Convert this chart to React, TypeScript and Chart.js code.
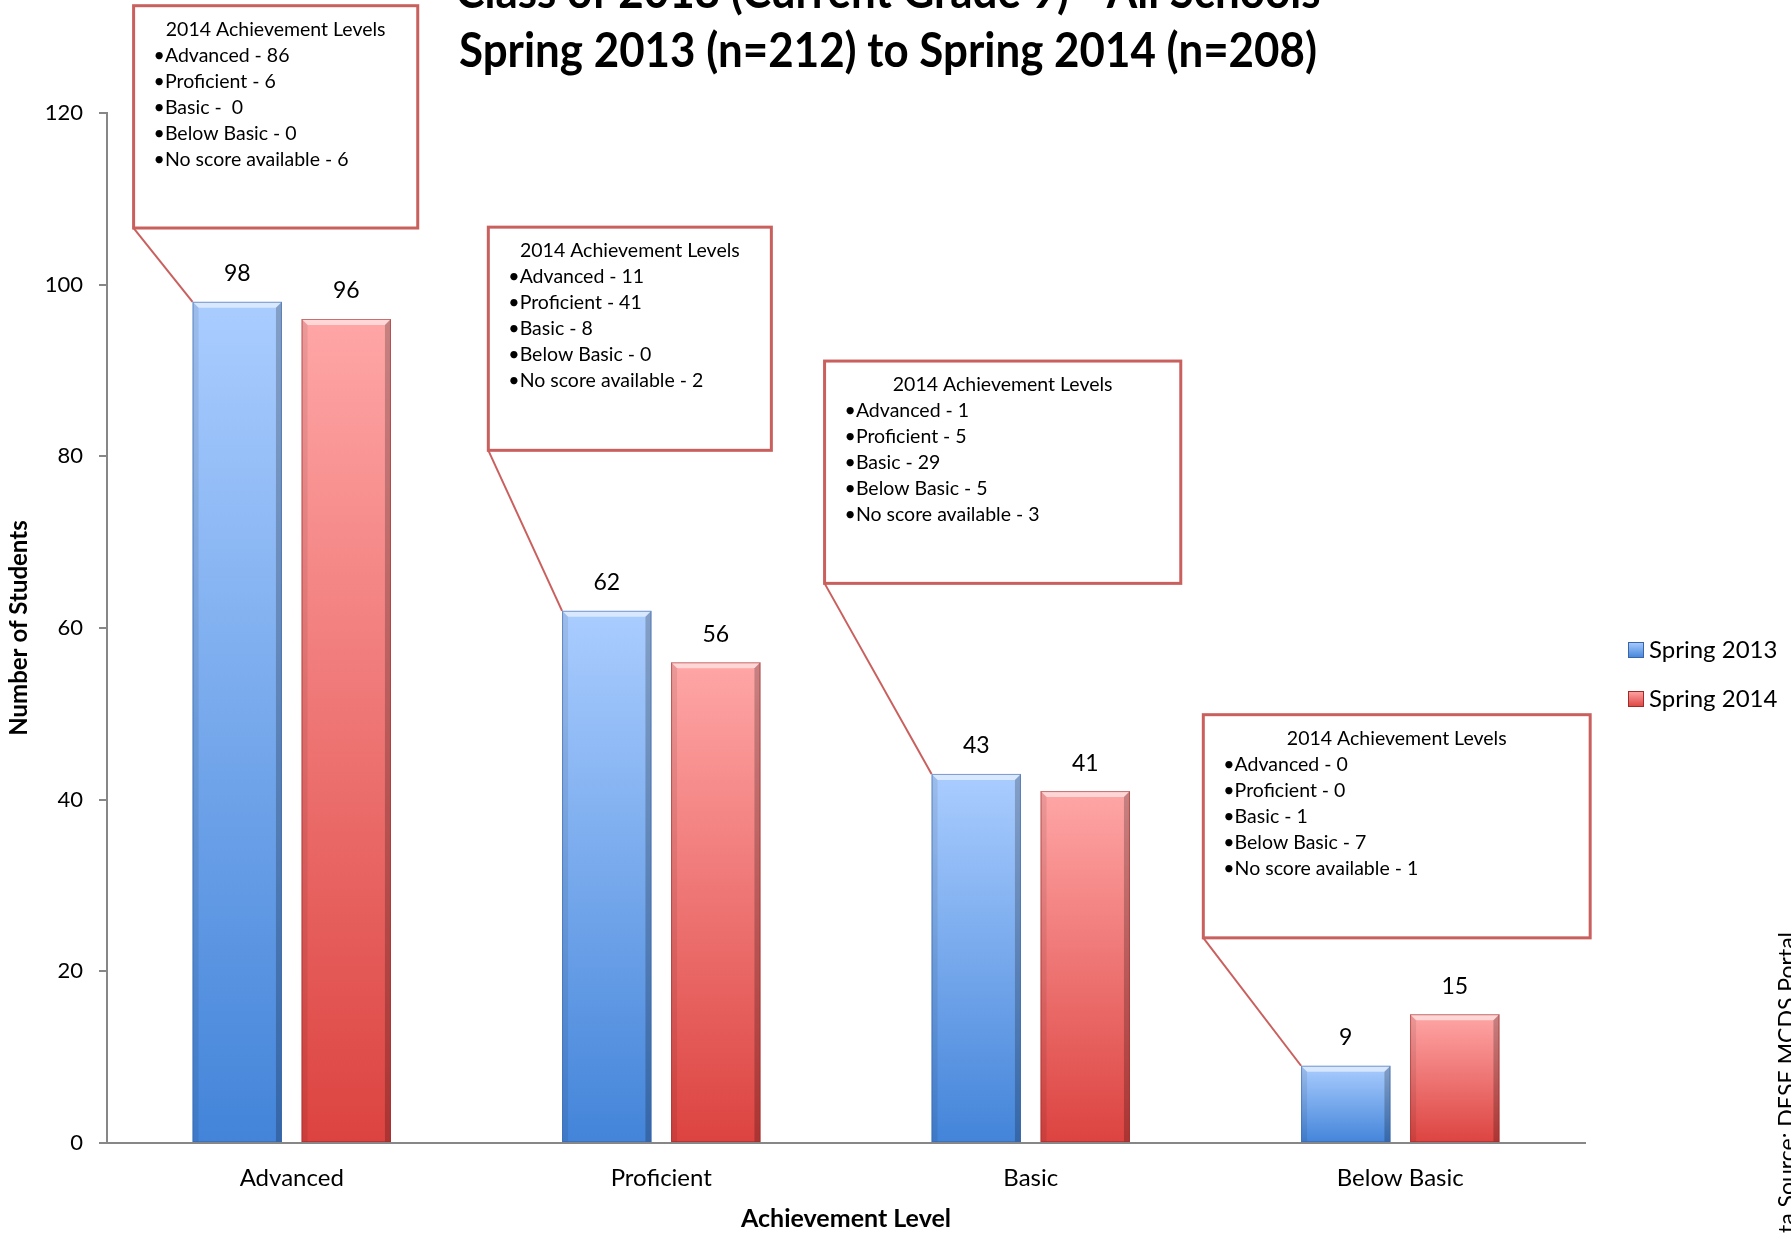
import React, { useEffect, useRef } from "react";
import { Chart, registerables } from "chart.js";

Chart.register(...registerables);

// ---------- data ----------
const categories = ["Advanced", "Proficient", "Basic", "Below Basic"];
const seriesNames = ["Spring 2013", "Spring 2014"];
const spring2013 = [98, 62, 43, 9];
const spring2014 = [96, 56, 41, 15];
const yTickValues = [0, 20, 40, 60, 80, 100, 120];
const titleLines = [
  "Class of 2018 (Current Grade 9) - All Schools",
  "Spring 2013 (n=212) to Spring 2014 (n=208)",
];
const yAxisTitle = "Number of Students";
const xAxisTitle = "Achievement Level";
const sourceNote = "Data Source: DESE MCDS Portal";
const calloutTitle = "2014 Achievement Levels";
const calloutLevels = ["Advanced", "Proficient", "Basic", "Below Basic", "No score available"];
const callout2014FromAdvanced = [86, 6, 0, 0, 6];
const callout2014FromProficient = [11, 41, 8, 0, 2];
const callout2014FromBasic = [1, 5, 29, 5, 3];
const callout2014FromBelowBasic = [0, 0, 1, 7, 1];
const calloutCounts = [
  callout2014FromAdvanced,
  callout2014FromProficient,
  callout2014FromBasic,
  callout2014FromBelowBasic,
];

// ---------- layout (category offsets / axis values) ----------
const calloutLayout = [
  { left: -0.428, right: 0.341, top: 132.5, bottom: 106.6 },
  { left: -0.468, right: 0.298, top: 106.7, bottom: 80.7 },
  { left: -0.558, right: 0.406, top: 91.1, bottom: 65.2 },
  { left: -0.533, right: 0.514, top: 49.9, bottom: 23.9 },
];

const FONT = "Lato";
const W = 1791;
const H = 1234;

const seriesColors = [
  { top: "#aacdff", bottom: "#4384d9", edge: "#3a66a8" },
  { top: "#ffa6a6", bottom: "#dc4340", edge: "#a02c2a" },
];

function barGradient(ctx: any, si: number) {
  const chart = ctx.chart;
  const c = seriesColors[si];
  if (!chart.chartArea || ctx.raw === undefined) return c.bottom;
  const y = chart.scales.y;
  const top = y.getPixelForValue(ctx.raw);
  const bot = y.getPixelForValue(0);
  const g = chart.ctx.createLinearGradient(0, top, 0, bot);
  g.addColorStop(0, c.top);
  g.addColorStop(1, c.bottom);
  return g;
}

const decorPlugin = {
  id: "decor",
  afterDatasetsDraw(chart: any) {
    const ctx = chart.ctx as CanvasRenderingContext2D;
    const xs = chart.scales.x;
    const ys = chart.scales.y;

    // bevels on bars
    chart.data.datasets.forEach((ds: any, di: number) => {
      const meta = chart.getDatasetMeta(di);
      meta.data.forEach((el: any) => {
        const L = el.x - el.width / 2;
        const R = el.x + el.width / 2;
        const T = el.y;
        const B = el.base;
        const b = 6;
        ctx.save();
        ctx.beginPath();
        ctx.moveTo(L, T);
        ctx.lineTo(R, T);
        ctx.lineTo(R - b, T + b);
        ctx.lineTo(L + b, T + b);
        ctx.closePath();
        ctx.fillStyle = "rgba(255,255,255,0.55)";
        ctx.fill();
        ctx.beginPath();
        ctx.moveTo(R, T);
        ctx.lineTo(R, B);
        ctx.lineTo(R - b, B);
        ctx.lineTo(R - b, T + b);
        ctx.closePath();
        ctx.fillStyle = "rgba(0,0,0,0.22)";
        ctx.fill();
        ctx.beginPath();
        ctx.moveTo(L, T);
        ctx.lineTo(L + b, T + b);
        ctx.lineTo(L + b, B);
        ctx.lineTo(L, B);
        ctx.closePath();
        ctx.fillStyle = "rgba(0,0,0,0.08)";
        ctx.fill();
        ctx.strokeStyle = seriesColors[di].edge;
        ctx.globalAlpha = 0.6;
        ctx.lineWidth = 1;
        ctx.strokeRect(L + 0.5, T + 0.5, el.width - 1, B - T - 1);
        ctx.restore();
      });
    });

    // data labels
    ctx.save();
    ctx.fillStyle = "#000";
    ctx.font = `23px ${FONT}`;
    ctx.textAlign = "center";
    ctx.textBaseline = "middle";
    chart.data.datasets.forEach((ds: any, di: number) => {
      const meta = chart.getDatasetMeta(di);
      meta.data.forEach((el: any, i: number) => {
        ctx.fillText(String(ds.data[i]), el.x, el.y - 28);
      });
    });
    ctx.restore();

    // callouts
    const step = xs.getPixelForValue(1) - xs.getPixelForValue(0);
    const blueMeta = chart.getDatasetMeta(0);
    calloutLayout.forEach((lay, i) => {
      const cx = xs.getPixelForValue(i);
      const left = cx + lay.left * step;
      const right = cx + lay.right * step;
      const top = ys.getPixelForValue(lay.top);
      const bottom = ys.getPixelForValue(lay.bottom);
      const bar = blueMeta.data[i] as any;
      ctx.save();
      ctx.strokeStyle = "#c9605e";
      ctx.lineWidth = 2;
      ctx.beginPath();
      ctx.moveTo(left, bottom);
      ctx.lineTo(bar.x - bar.width / 2, bar.y);
      ctx.stroke();
      ctx.fillStyle = "#ffffff";
      ctx.fillRect(left, top, right - left, bottom - top);
      ctx.lineWidth = 3;
      ctx.strokeRect(left, top, right - left, bottom - top);
      ctx.fillStyle = "#000";
      ctx.font = `19.5px ${FONT}`;
      ctx.textBaseline = "middle";
      ctx.textAlign = "center";
      ctx.fillText(calloutTitle, (left + right) / 2, top + 24);
      ctx.textAlign = "left";
      calloutLevels.forEach((lv, k) => {
        const sep = i === 0 && k === 2 ? " -  " : " - ";
        ctx.fillText(`\u2022${lv}${sep}${calloutCounts[i][k]}`, left + 20, top + 50 + k * 26);
      });
      ctx.restore();
    });

    // legend
    ctx.save();
    seriesNames.forEach((name, k) => {
      const yc = 650 + k * 49;
      const x0 = 1628;
      const s = 16;
      const c = seriesColors[k];
      const g = ctx.createLinearGradient(0, yc - s / 2, 0, yc + s / 2);
      g.addColorStop(0, c.top);
      g.addColorStop(1, c.bottom);
      ctx.fillStyle = g;
      ctx.fillRect(x0, yc - s / 2, s, s);
      ctx.strokeStyle = c.edge;
      ctx.lineWidth = 1;
      ctx.strokeRect(x0 + 0.5, yc - s / 2 + 0.5, s - 1, s - 1);
      ctx.fillStyle = "#000";
      ctx.font = `24px ${FONT}`;
      ctx.textAlign = "left";
      ctx.textBaseline = "middle";
      ctx.fillText(name, x0 + 21, yc);
    });
    ctx.restore();

    // title (condensed to the reference width)
    ctx.save();
    ctx.fillStyle = "#000";
    ctx.font = `bold 47px ${FONT}`;
    ctx.textAlign = "center";
    ctx.textBaseline = "alphabetic";
    const targets = [865, 858];
    const baselines = [8, 67];
    titleLines.forEach((t, k) => {
      const w = ctx.measureText(t).width;
      const sx = Math.min(1, targets[k] / w);
      ctx.save();
      ctx.translate(888, baselines[k]);
      ctx.scale(sx, 1);
      ctx.fillText(t, 0, 0);
      ctx.restore();
    });
    ctx.restore();

    // source note, rotated, clipped by the right edge
    ctx.save();
    ctx.fillStyle = "#000";
    ctx.font = `23px ${FONT}`;
    ctx.translate(1795, 932);
    ctx.rotate(-Math.PI / 2);
    ctx.textAlign = "right";
    ctx.textBaseline = "alphabetic";
    ctx.fillText(sourceNote, 0, 0);
    ctx.restore();
  },
};

export default function App() {
  const ref = useRef<HTMLCanvasElement | null>(null);
  useEffect(() => {
    document.body.style.margin = "0";
    const canvas = ref.current;
    if (!canvas) return;
    Chart.defaults.font.family = FONT;
    const chart = new Chart(canvas, {
      type: "bar",
      data: {
        labels: categories,
        datasets: [
          {
            label: seriesNames[0],
            data: spring2013,
            backgroundColor: (c: any) => barGradient(c, 0),
            categoryPercentage: 0.59,
            barPercentage: 0.82,
          },
          {
            label: seriesNames[1],
            data: spring2014,
            backgroundColor: (c: any) => barGradient(c, 1),
            categoryPercentage: 0.59,
            barPercentage: 0.82,
          },
        ],
      },
      options: {
        responsive: false,
        animation: false,
        layout: { padding: { left: 0, right: 206, top: 113, bottom: 0 } },
        plugins: {
          legend: { display: false },
          title: { display: false },
          tooltip: { enabled: false },
        },
        scales: {
          x: {
            grid: { display: false, drawTicks: false },
            border: { display: true, color: "#878787", width: 2 },
            ticks: { color: "#000", font: { size: 24, family: FONT }, padding: 21 },
            title: {
              display: true,
              text: xAxisTitle,
              color: "#000",
              font: { size: 25, weight: "bold", family: FONT },
              padding: { top: 4, bottom: 0 },
            },
            afterFit: (s: any) => {
              s.height = 91;
            },
          },
          y: {
            min: 0,
            max: 120,
            afterBuildTicks: (s: any) => {
              s.ticks = yTickValues.map((v) => ({ value: v }));
            },
            grid: {
              display: true,
              drawOnChartArea: false,
              drawTicks: true,
              tickLength: 8,
              color: "#878787",
              lineWidth: 2,
            },
            border: { display: true, color: "#878787", width: 2 },
            ticks: { color: "#000", font: { size: 22, family: FONT }, padding: 16 },
            title: {
              display: true,
              text: yAxisTitle,
              color: "#000",
              font: { size: 24, weight: "bold", family: FONT },
              padding: { top: 5, bottom: 4 },
            },
            afterFit: (s: any) => {
              s.width = 107;
            },
          },
        },
      },
      plugins: [decorPlugin],
    });
    return () => chart.destroy();
  }, []);
  return (
    <canvas
      ref={ref}
      width={W}
      height={H}
      style={{ display: "block", width: W, height: H }}
    />
  );
}
